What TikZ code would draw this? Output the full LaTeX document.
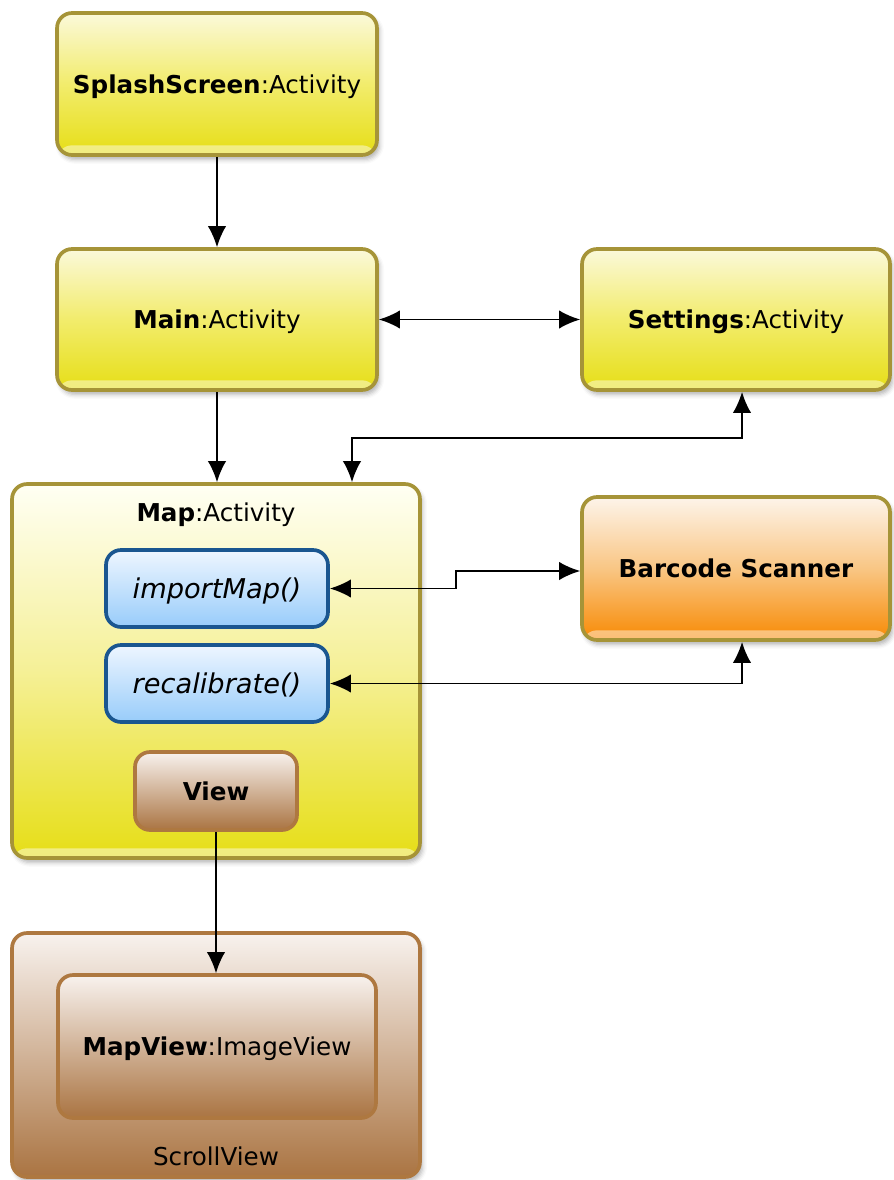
\documentclass[tikz,border=0pt]{standalone}
\usepackage{fontspec}
\setmainfont{DejaVu Sans}
\usetikzlibrary{arrows.meta,shadows.blur}

% palette
\definecolor{ylwedge}{RGB}{166,148,56}
\definecolor{ylwtop}{RGB}{251,249,218}
\definecolor{ylwmid}{RGB}{242,236,108}
\definecolor{ylwbot}{RGB}{230,222,22}
\definecolor{maptop}{RGB}{255,255,244}
\definecolor{mapmid}{RGB}{245,240,150}
\definecolor{orgtop}{RGB}{253,244,234}
\definecolor{orgmid}{RGB}{249,198,132}
\definecolor{orgbot}{RGB}{248,138,4}
\definecolor{bluedge}{RGB}{26,86,144}
\definecolor{bluetop}{RGB}{238,246,255}
\definecolor{bluebot}{RGB}{152,204,250}
\definecolor{brnedge}{RGB}{174,120,64}
\definecolor{brntop}{RGB}{248,242,238}
\definecolor{brnbot}{RGB}{170,116,66}

\begin{document}
\begin{tikzpicture}[x=0.02cm,y=-0.02cm,
  box/.style={draw, rounded corners=0.3cm, line width=2.1pt, inner sep=0pt,
    align=center, text depth=0pt, font=\fontsize{14}{16}\selectfont},
  shade/.style={blur shadow={shadow xshift=1.5pt, shadow yshift=-2.5pt,
      shadow blur radius=2.5pt, shadow opacity=30}},
  gloss/.style={path picture={\fill[white,opacity=0.45]
      ([yshift=1pt]path picture bounding box.south west) rectangle
      ([yshift=5.5pt]path picture bounding box.south east);}},
  activity/.style={box, shade, gloss, draw=ylwedge, top color=ylwtop,
    bottom color=ylwbot, middle color=ylwmid},
  container/.style={box, shade, gloss, draw=ylwedge, top color=maptop,
    bottom color=ylwbot, middle color=mapmid},
  external/.style={box, shade, gloss, draw=ylwedge, top color=orgtop,
    bottom color=orgbot, middle color=orgmid},
  method/.style={box, draw=bluedge, top color=bluetop, bottom color=bluebot,
    font=\fontsize{15.5}{17}\selectfont\itshape,
    minimum width=4.44cm, minimum height=1.54cm},
  viewbox/.style={box, draw=brnedge, top color=brntop, bottom color=brnbot},
  conn/.style={line width=1.1pt, -{Latex[length=12pt,width=10.5pt]}},
  twoway/.style={line width=1.1pt,
    {Latex[length=12pt,width=10.5pt]}-{Latex[length=12pt,width=10.5pt]}},
  caption/.style={inner sep=0pt, font=\fontsize{14}{16}\selectfont}
]
\useasboundingbox (0,0) rectangle (893,1180);

% activities
\node[activity, minimum width=6.4cm, minimum height=2.84cm] (splash) at (217,84)
  {\textbf{SplashScreen}:Activity};
\node[activity, minimum width=6.4cm, minimum height=2.82cm] (main) at (217,319.5)
  {\textbf{Main}:Activity};
\node[activity, minimum width=6.16cm, minimum height=2.82cm] (settings) at (736,319.5)
  {\textbf{Settings}:Activity};

% map activity and its members
\node[container, minimum width=8.16cm, minimum height=7.48cm] (map) at (216,671) {};
\node[caption] (maptitle) at (216,515) {\textbf{Map}:Activity};
\node[method] (imp) at (217,588.5) {importMap()};
\node[method] (rec) at (217,683.5) {recalibrate()};
\node[viewbox, minimum width=3.24cm, minimum height=1.56cm] (view) at (216,791)
  {\textbf{View}};

% external scanner
\node[external, minimum width=6.16cm, minimum height=2.86cm] (barcode) at (736,568.5)
  {\textbf{Barcode Scanner}};

% scroll view with image view
\node[viewbox, shade, minimum width=8.16cm, minimum height=4.88cm] (scroll) at (216,1055) {};
\node[viewbox, minimum width=6.36cm, minimum height=2.86cm] (mapview) at (217,1046.5)
  {\textbf{MapView}:ImageView};
\node[caption] (scrolltitle) at (216,1156) {ScrollView};

% routing points
\coordinate (k1) at (352,438);
\coordinate (k2) at (742,438);
\coordinate (jog) at (456,571);

% connectors
\draw[conn] (splash.south) -- (main.north);
\draw[twoway] (main) -- (settings);
\draw[conn] (main.south) -- (main.south |- map.north);
\draw[twoway] (map.north -| k1) -- (k1) -- (k2) -- (settings.south -| k2);
\draw[twoway] (imp.east) -| (jog) -- (barcode.west |- jog);
\draw[twoway] (rec.east) -| (barcode.south -| k2);
\draw[conn] (view.south) -- (view.south |- mapview.north);
\end{tikzpicture}
\end{document}
